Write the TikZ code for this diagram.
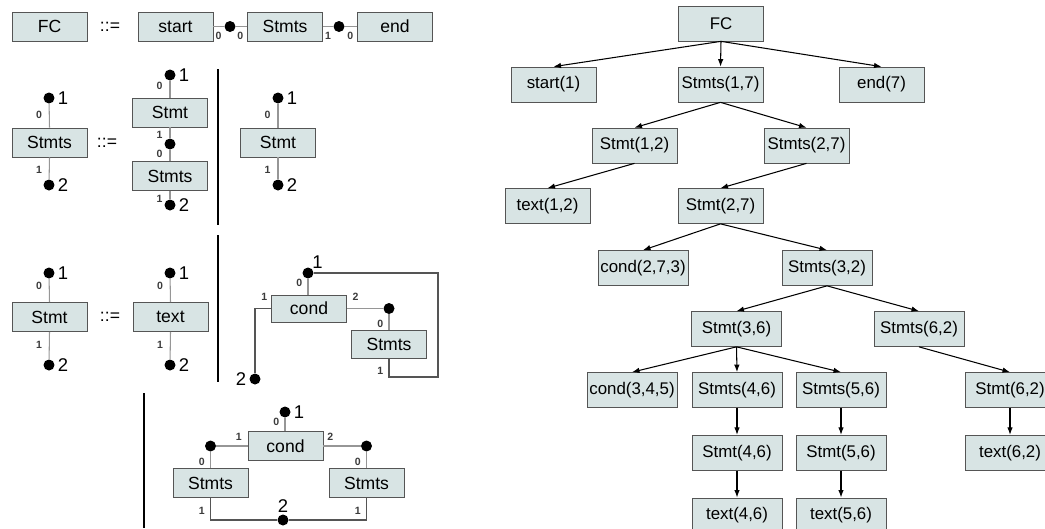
\documentclass[tikz,border=0pt]{standalone}
\usepackage{fontspec}
\setmainfont{Liberation Sans}
\definecolor{BoxFill}{RGB}{216, 228, 228}
\definecolor{BoxLine}{RGB}{85, 85, 85}
\definecolor{StubGray}{RGB}{150, 150, 150}
\usetikzlibrary{arrows.meta, positioning}

\begin{document}
\begin{tikzpicture}[x=0.02cm, y=-0.02cm, every node/.style={font=\fontsize{10}{12}\selectfont},
    box/.style={draw=BoxLine, fill=BoxFill, rectangle, minimum width=1.5cm, minimum height=0.58cm, inner sep=0pt},
    treebox/.style={draw=BoxLine, fill=BoxFill, rectangle, minimum width=1.7cm, minimum height=0.7cm, inner sep=0pt, font=\fontsize{9.6}{11}\selectfont},
    widebox/.style={treebox, minimum width=1.8cm},
    port/.style={circle, fill=black, inner sep=0pt, minimum size=0.22cm},
    stub/.style={draw=StubGray, line width=0.6pt},
    wire/.style={draw=BoxLine, line width=0.6pt},
    num/.style={font=\fontsize{6}{7}\selectfont\bfseries, inner sep=0pt, text=BoxLine!70!black},
    pin/.style={font=\fontsize{10.5}{12}\selectfont, inner sep=0pt, label distance=1.5pt},
    treearrow/.style={-{Latex[length=1.5mm, width=1.1mm]}, line width=0.6pt},
    divider/.style={line width=1.4pt}]
    \useasboundingbox (0,0) rectangle (1045,528);

    % FC ::= start Stmts end
    \node[box] (fcL) at (49.5,26.5) {FC};
    \node (def1) at (110,26.5) {::=};
    \node[box] (startL) at (175.5,26.5) {start};
    \node[box] (stmtsL1) at (285,26.5) {Stmts};
    \node[box] (endL) at (395,26.5) {end};
    \node[port] (pa) at (230,26.5) {};
    \node[port] (pb) at (339,26.5) {};
    \draw[stub] (startL.east) -- node[num, pos=0, below right=3pt and 1pt] {0} (pa);
    \draw[stub] (stmtsL1.west) -- node[num, pos=0, below left=3pt and 2pt] {0} (pa);
    \draw[stub] (stmtsL1.east) -- node[num, pos=0, below right=3pt and 1pt] {1} (pb);
    \draw[stub] (endL.west) -- node[num, pos=0, below left=3pt and 2pt] {0} (pb);

    % Stmts ::= Stmt Stmts | Stmt
    \node[box] (stmtsL2) at (49.5,142.5) {Stmts};
    \node[port, label={[pin]right:1}] (pL2a) at (49,98) {};
    \node[port, label={[pin]right:2}] (pL2b) at (49,185) {};
    \draw[stub] (stmtsL2.north) -- node[num, pos=0, above left=5pt and 4pt] {0} (pL2a);
    \draw[stub] (stmtsL2.south) -- node[num, pos=0, below left=5pt and 4pt] {1} (pL2b);
    \node (def2) at (107,142.5) {::=};

    \node[box] (stmtM2) at (170,112.5) {Stmt};
    \node[box] (stmtsM2) at (170,176) {Stmts};
    \node[port, label={[pin]right:1}] (pM2a) at (170,75) {};
    \node[port] (pM2b) at (170,144) {};
    \node[port, label={[pin]right:2}] (pM2c) at (170,205) {};
    \draw[stub] (stmtM2.north) -- node[num, pos=0, above left=4pt and 4pt] {0} (pM2a);
    \draw[stub] (stmtM2.south) -- node[num, pos=0, below left=2pt and 4pt] {1} (pM2b);
    \draw[stub] (stmtsM2.north) -- node[num, pos=0, above left=2pt and 4pt] {0} (pM2b);
    \draw[stub] (stmtsM2.south) -- node[num, pos=0, below left=2pt and 4pt] {1} (pM2c);

    \draw[divider] (218,69) -- (218,225);

    \node[box] (stmtR2) at (278,142.5) {Stmt};
    \node[port, label={[pin]right:1}] (pR2a) at (278,98) {};
    \node[port, label={[pin]right:2}] (pR2b) at (278,185) {};
    \draw[stub] (stmtR2.north) -- node[num, pos=0, above left=5pt and 4pt] {0} (pR2a);
    \draw[stub] (stmtR2.south) -- node[num, pos=0, below left=5pt and 4pt] {1} (pR2b);

    % Stmt ::= text | cond ...
    \node[box] (stmtL3) at (49.5,317) {Stmt};
    \node[port, label={[pin]right:1}] (pL3a) at (49,273) {};
    \node[port, label={[pin]right:2}] (pL3b) at (49,365) {};
    \draw[stub] (stmtL3.north) -- node[num, pos=0, above left=7pt and 4pt] {0} (pL3a);
    \draw[stub] (stmtL3.south) -- node[num, pos=0, below left=5pt and 4pt] {1} (pL3b);
    \node (def3) at (110,317) {::=};

    \node[box] (textM3) at (170.5,317) {text};
    \node[port, label={[pin]right:1}] (pM3a) at (170,273) {};
    \node[port, label={[pin]right:2}] (pM3b) at (170,365) {};
    \draw[stub] (textM3.north) -- node[num, pos=0, above left=7pt and 4pt] {0} (pM3a);
    \draw[stub] (textM3.south) -- node[num, pos=0, below left=5pt and 4pt] {1} (pM3b);

    \draw[divider] (218,235) -- (218,382);

    \node[box, minimum height=0.54cm] (condR3) at (309,308.5) {cond};
    \node[box, minimum height=0.56cm] (stmtsR3) at (389,344) {Stmts};
    \node[port, label={[pin, label distance=0pt]above right:1}] (pC1) at (308,273) {};
    \node[port, label={[pin]left:2}] (pC2) at (255,379) {};
    \node[port] (pC3) at (389,308.5) {};
    \coordinate (loopcorner) at (438,377);
    \draw[stub] (condR3.north -| pC1) -- node[num, pos=0, above left=4pt and 3pt] {0} (pC1);
    \draw[stub] (condR3.east) -- node[num, pos=0, above right=4pt and 3pt] {2} (pC3);
    \draw[stub] (stmtsR3.north) -- node[num, pos=0, above left=1pt and 3pt] {0} (pC3);
    \draw[wire] (stmtsR3.south) node[num, below left=5pt and 3pt] {1} |- (loopcorner) |- (pC1);
    \draw[wire] (condR3.west) node[num, above left=4pt and 2pt] {1} -| (pC2);

    % cond with two branches
    \draw[divider] (144,393) -- (144,528);
    \node[box] (condB) at (285.5,446) {cond};
    \node[box] (stmtsB1) at (210.5,483) {Stmts};
    \node[box] (stmtsB2) at (366.5,483) {Stmts};
    \node[port, label={[pin]right:1}] (pB1) at (285,412) {};
    \node[port] (pB2) at (210.5,446) {};
    \node[port] (pB3) at (366.5,446) {};
    \node[port, label={[pin, label distance=0.5pt]above:2}] (pB4) at (283,520) {};
    \draw[stub] (condB.north -| pB1) -- node[num, pos=0, above left=3pt and 3pt] {0} (pB1);
    \draw[stub] (condB.west) -- node[num, pos=0, above left=3pt and 3pt] {1} (pB2);
    \draw[stub] (condB.east) -- node[num, pos=0, above right=3pt and 2pt] {2} (pB3);
    \draw[stub] (stmtsB1.north) -- node[num, pos=0, above left=1pt and 3pt] {0} (pB2);
    \draw[stub] (stmtsB2.north) -- node[num, pos=0, above left=1pt and 3pt] {0} (pB3);
    \draw[wire] (stmtsB1.south) node[num, below left=5pt and 3pt] {1} |- (pB4);
    \draw[wire] (stmtsB2.south) node[num, below left=5pt and 3pt] {1} |- (pB4);

    % derivation tree
    \node[treebox] (fc) at (721,23.5) {FC};
    \node[treebox] (start1) at (553.5,84.5) {start(1)};
    \node[treebox] (stmts17) at (720.5,84.5) {Stmts(1,7)};
    \node[treebox] (end7) at (881.5,84.5) {end(7)};
    \node[treebox] (stmt12) at (634.5,145.5) {Stmt(1,2)};
    \node[treebox] (stmts27) at (806.5,145.5) {Stmts(2,7)};
    \node[treebox] (text12) at (547.5,206) {text(1,2)};
    \node[treebox] (stmt27) at (720.5,206) {Stmt(2,7)};
    \node[widebox] (cond273) at (643,268) {cond(2,7,3)};
    \node[widebox] (stmts32) at (827,268) {Stmts(3,2)};
    \node[widebox] (stmt36) at (736.5,329) {Stmt(3,6)};
    \node[widebox] (stmts62) at (919,329) {Stmts(6,2)};
    \node[widebox] (cond345) at (632,390) {cond(3,4,5)};
    \node[widebox] (stmts46) at (737,390) {Stmts(4,6)};
    \node[widebox] (stmts56) at (841,390) {Stmts(5,6)};
    \node[widebox] (stmt62) at (1010,390) {Stmt(6,2)};
    \node[widebox, below=0.54cm of stmts46] (stmt46) {Stmt(4,6)};
    \node[widebox, below=0.54cm of stmts56] (stmt56) {Stmt(5,6)};
    \node[widebox, below=0.54cm of stmt62] (text62) {text(6,2)};
    \node[widebox, below=0.54cm of stmt46] (text46) {text(4,6)};
    \node[widebox, below=0.54cm of stmt56] (text56) {text(5,6)};

    \draw[treearrow] (fc.south) -- (start1.north);
    \draw[treearrow] (fc.south) -- (stmts17.north);
    \draw[treearrow] (fc.south) -- (end7.north);
    \draw[treearrow] (stmts17.south) -- (stmt12.north);
    \draw[treearrow] (stmts17.south) -- (stmts27.north);
    \draw[treearrow] (stmt12.south) -- (text12.north);
    \draw[treearrow] (stmts27.south) -- (stmt27.north);
    \draw[treearrow] (stmt27.south) -- (cond273.north);
    \draw[treearrow] (stmt27.south) -- (stmts32.north);
    \draw[treearrow] (stmts32.south) -- (stmt36.north);
    \draw[treearrow] (stmts32.south) -- (stmts62.north);
    \draw[treearrow] (stmt36.south) -- (cond345.north);
    \draw[treearrow] (stmt36.south) -- (stmts46.north);
    \draw[treearrow] (stmt36.south) -- (stmts56.north);
    \draw[treearrow] (stmts62.south) -- (stmt62.north);
    \draw[treearrow] (stmts46.south) -- (stmt46.north);
    \draw[treearrow] (stmts56.south) -- (stmt56.north);
    \draw[treearrow] (stmt62.south) -- (text62.north);
    \draw[treearrow] (stmt46.south) -- (text46.north);
    \draw[treearrow] (stmt56.south) -- (text56.north);
\end{tikzpicture}
\end{document}
